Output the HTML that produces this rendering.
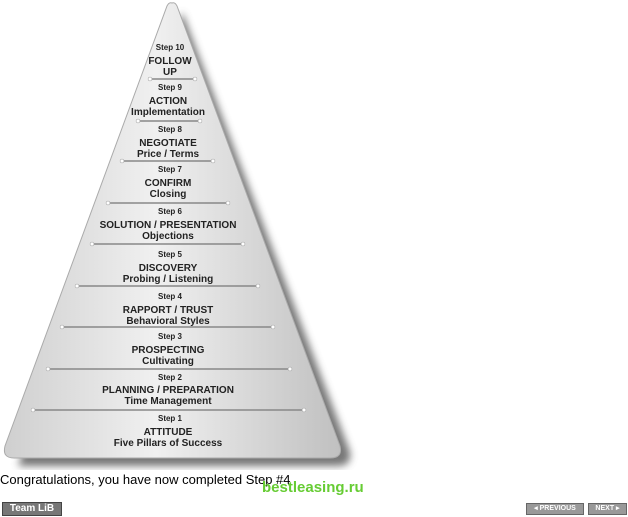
<!DOCTYPE html>
<html><head><style>
body{margin:0;width:628px;height:517px;background:#fff;position:relative;overflow:hidden;font-family:"Liberation Sans",sans-serif}
.t{position:absolute}
</style></head><body>
<svg width="628" height="470" style="position:absolute;left:0;top:0">
<defs>
<linearGradient id="g" x1="0" y1="0" x2="1" y2="0">
<stop offset="0" stop-color="#cfcfcf"/><stop offset="0.45" stop-color="#f0f0f0"/><stop offset="1" stop-color="#c0c0c0"/>
</linearGradient>
<filter id="b"><feGaussianBlur stdDeviation="4"/></filter>
</defs>
<path d="M182 12 L350 452 Q352 466 338 466 L18 466 Z" fill="#555" filter="url(#b)" opacity="0.8"/>
<path d="M172 3 Q175 2 177 6 L340 446 Q343 458 330 458 L14 458 Q2 458 5 446 L167 6 Q169 2 172 3 Z" fill="url(#g)" stroke="#aaa" stroke-width="1"/>
<g stroke="#888" stroke-width="1.5">
<line x1="150" y1="79" x2="195" y2="79"/><line x1="138" y1="121" x2="200" y2="121"/>
<line x1="122" y1="161" x2="213" y2="161"/><line x1="108" y1="203" x2="228" y2="203"/>
<line x1="92" y1="244" x2="243" y2="244"/><line x1="77" y1="286" x2="258" y2="286"/>
<line x1="62" y1="327" x2="273" y2="327"/><line x1="48" y1="369" x2="290" y2="369"/>
<line x1="33" y1="410" x2="304" y2="410"/>
</g>
<g fill="#fff" stroke="#999" stroke-width="0.5">
<circle cx="150" cy="79" r="2"/><circle cx="195" cy="79" r="2"/><circle cx="138" cy="121" r="2"/><circle cx="200" cy="121" r="2"/>
<circle cx="122" cy="161" r="2"/><circle cx="213" cy="161" r="2"/><circle cx="108" cy="203" r="2"/><circle cx="228" cy="203" r="2"/>
<circle cx="92" cy="244" r="2"/><circle cx="243" cy="244" r="2"/><circle cx="77" cy="286" r="2"/><circle cx="258" cy="286" r="2"/>
<circle cx="62" cy="327" r="2"/><circle cx="273" cy="327" r="2"/><circle cx="48" cy="369" r="2"/><circle cx="290" cy="369" r="2"/>
<circle cx="33" cy="410" r="2"/><circle cx="304" cy="410" r="2"/>
</g>
<g font-family="Liberation Sans,sans-serif" font-weight="bold" fill="#222" text-anchor="middle">
<g font-size="8"><text x="170" y="50">Step 10</text><text x="170" y="90">Step 9</text><text x="170" y="132">Step 8</text><text x="170" y="172">Step 7</text><text x="170" y="214">Step 6</text><text x="170" y="257">Step 5</text><text x="170" y="299">Step 4</text><text x="170" y="339">Step 3</text><text x="170" y="380">Step 2</text><text x="170" y="421">Step 1</text></g>
<g font-size="10">
<text x="170" y="64">FOLLOW</text><text x="170" y="75">UP</text>
<text x="168" y="104">ACTION</text><text x="168" y="115">Implementation</text>
<text x="168" y="146">NEGOTIATE</text><text x="168" y="157">Price / Terms</text>
<text x="168" y="186">CONFIRM</text><text x="168" y="197">Closing</text>
<text x="168" y="228">SOLUTION / PRESENTATION</text><text x="168" y="239">Objections</text>
<text x="168" y="271">DISCOVERY</text><text x="168" y="282">Probing / Listening</text>
<text x="168" y="313">RAPPORT / TRUST</text><text x="168" y="324">Behavioral Styles</text>
<text x="168" y="353">PROSPECTING</text><text x="168" y="364">Cultivating</text>
<text x="168" y="393">PLANNING / PREPARATION</text><text x="168" y="404">Time Management</text>
<text x="168" y="435">ATTITUDE</text><text x="168" y="446">Five Pillars of Success</text>
</g></g>
</svg>
<div class="t" style="left:0;top:472px;font-size:13px;color:#000">Congratulations, you have now completed Step #4</div>
<div class="t" style="left:262px;top:479px;font-size:15px;font-weight:bold;color:#6c3;">bestleasing.ru</div>
<div class="t" style="left:2px;top:502px;width:60px;height:14px;background:#777;border:1px solid #444;box-sizing:border-box;color:#fff;font-size:10px;font-weight:bold;line-height:12px;text-align:center">Team LiB</div>
<div class="t" style="left:526px;top:503px;width:58px;height:12px;background:#999;border:1px solid #666;box-sizing:border-box;color:#fff;font-size:7px;font-weight:bold;line-height:10px;text-align:center">◂ PREVIOUS</div>
<div class="t" style="left:588px;top:503px;width:39px;height:12px;background:#999;border:1px solid #666;box-sizing:border-box;color:#fff;font-size:7px;font-weight:bold;line-height:10px;text-align:center">NEXT ▸</div>
</body></html>
